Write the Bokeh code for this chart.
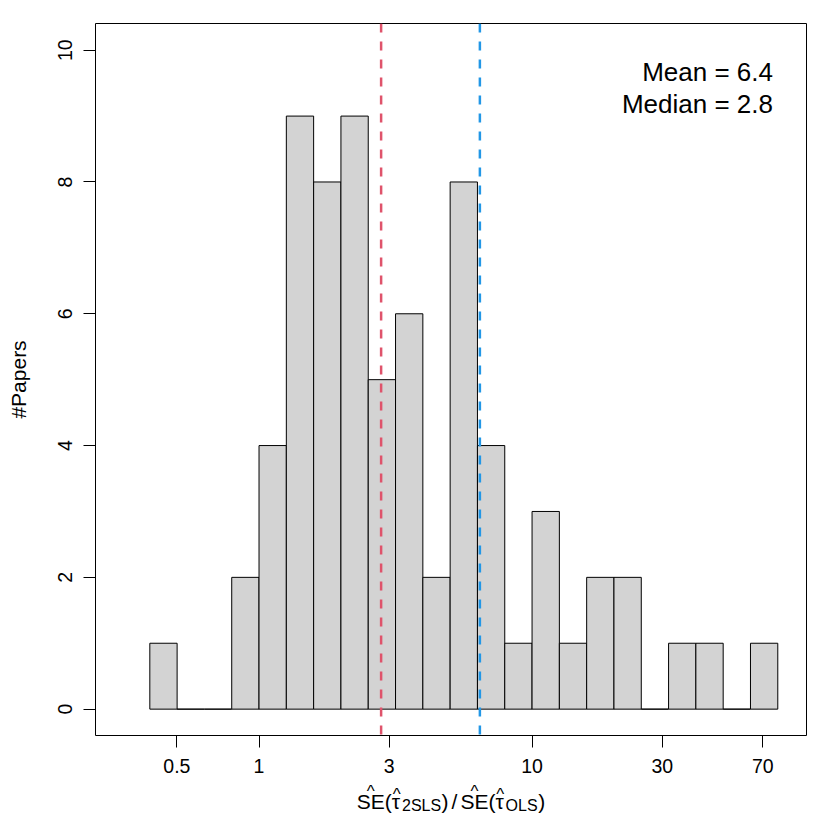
from bokeh.plotting import figure
from bokeh.layouts import column
from bokeh.models import Range1d, FixedTicker, Span, Label
from bokeh.embed import file_html
from bokeh.resources import INLINE

# ---- data ----
log_edges = [-0.4, -0.3, -0.2, -0.1, 0.0, 0.1, 0.2, 0.3, 0.4, 0.5, 0.6, 0.7,
             0.8, 0.9, 1.0, 1.1, 1.2, 1.3, 1.4, 1.5, 1.6, 1.7, 1.8, 1.9]
counts = [1, 0, 0, 2, 4, 9, 8, 9, 5, 6, 2, 8, 4, 1, 3, 1, 2, 2, 0, 1, 1, 0, 1]
x_ticks = [0.5, 1, 3, 10, 30, 70]
x_tick_labels = ["0.5", "1", "3", "10", "30", "70"]
y_ticks = [0, 2, 4, 6, 8, 10]
mean_val = 6.44
median_val = 2.8
mean_text = "Mean = 6.4"
median_text = "Median = 2.8"
y_label = "#Papers"

FONT = "Liberation Sans"

lefts = [10 ** e for e in log_edges[:-1]]
rights = [10 ** e for e in log_edges[1:]]

x_range = Range1d(0.2518, 101.2)

p = figure(width=814, height=778, x_axis_type="log",
           x_range=x_range, y_range=Range1d(-0.4, 10.405),
           output_backend="svg", toolbar_location=None,
           min_border_left=95, min_border_right=8,
           min_border_top=23, min_border_bottom=43)

p.quad(left=lefts, right=rights, bottom=0, top=counts,
       fill_color="#D3D3D3", line_color="black", line_width=1)

p.add_layout(Span(location=median_val, dimension="height", line_color="#DF536B",
                  line_dash="9 9", line_width=2.5))
p.add_layout(Span(location=mean_val, dimension="height", line_color="#2297E6",
                  line_dash="9 9", line_width=2.5))

p.grid.visible = False
p.outline_line_color = "black"
p.outline_line_width = 1
p.background_fill_color = "white"
p.border_fill_color = "white"

for ax in (p.xaxis[0], p.yaxis[0]):
    ax.axis_line_color = None
    ax.major_tick_out = 12
    ax.major_tick_in = 0
    ax.major_tick_line_color = "black"
    ax.major_tick_line_width = 1
    ax.minor_tick_line_color = None
    ax.major_label_text_font = FONT
    ax.major_label_text_font_size = "19.5px"
    ax.major_label_text_color = "black"

p.xaxis.ticker = FixedTicker(ticks=x_ticks, minor_ticks=[])
p.xaxis.major_label_overrides = dict(zip(x_ticks, x_tick_labels))
p.xaxis.major_label_standoff = 11

p.yaxis.ticker = FixedTicker(ticks=y_ticks, minor_ticks=[])
p.yaxis.major_label_orientation = "vertical"
p.yaxis.major_label_standoff = 11
p.yaxis.axis_label = y_label
p.yaxis.axis_label_text_font = FONT
p.yaxis.axis_label_text_font_size = "21px"
p.yaxis.axis_label_text_font_style = "normal"
p.yaxis.axis_label_text_color = "black"
p.yaxis.axis_label_standoff = 26

# statistics text
p.add_layout(Label(x=76.3, y=9.666, text=mean_text, text_align="right",
                   text_baseline="alphabetic",
                   text_font=FONT, text_font_size="26px", text_color="black"))
p.add_layout(Label(x=76.3, y=9.176, text=median_text, text_align="right",
                   text_baseline="alphabetic",
                   text_font=FONT, text_font_size="26px", text_color="black"))

# ---- x-axis label strip: SE^(tau^_2SLS) / SE^(tau^_OLS) ----
p2 = figure(width=814, height=36, x_axis_type="log", x_range=x_range,
            y_range=Range1d(0, 36), output_backend="svg", toolbar_location=None,
            x_axis_location=None, y_axis_location=None,
            min_border_left=95, min_border_right=8, min_border_top=0, min_border_bottom=0)
p2.grid.visible = False
p2.outline_line_color = None
p2.background_fill_color = "white"
p2.border_fill_color = "white"

F, f = 21.0, 16.0
W = {"S": 0.667, "E": 0.667, "(": 0.333, ")": 0.333, "/": 0.278, "2": 0.556,
     "L": 0.556, "O": 0.778, "τ": 0.46}

def wid(s, size):
    return sum(W[c] for c in s) * size

seq = [("SE(", F, 0, 0), ("τ", F, 0, 0), ("2SLS", f, -4, 0.5), (")", F, 0, 0.5),
       ("/", F, 0, 3), ("SE(", F, 0, 3), ("τ", F, 0, 0), ("OLS", f, -4, 0.5), (")", F, 0, 0.5)]
pos = 0.0
placed = []
for txt, size, dy, gap in seq:
    pos += gap
    placed.append((txt, size, dy, pos))
    pos += wid(txt, size)
total = pos
xc, yb = 5.047, 13
for txt, size, dy, x0 in placed:
    p2.add_layout(Label(x=xc, y=yb, x_offset=x0 - total / 2, y_offset=dy, text=txt,
                        text_align="left", text_baseline="alphabetic",
                        text_font=FONT, text_font_size=f"{size}px", text_color="black"))
    if txt == "SE(":
        p2.add_layout(Label(x=xc, y=yb, x_offset=x0 + wid("SE", F) / 2 - total / 2, y_offset=10.5,
                            text="^", text_align="center", text_baseline="alphabetic",
                            text_font=FONT, text_font_size="17px", text_color="black"))
    if txt == "τ":
        p2.add_layout(Label(x=xc, y=yb, x_offset=x0 + wid("τ", F) / 2 - total / 2, y_offset=7,
                            text="^", text_align="center", text_baseline="alphabetic",
                            text_font=FONT, text_font_size="17px", text_color="black"))

layout = column(p, p2, spacing=0)
open("out.html", "w").write(file_html(layout, INLINE))
